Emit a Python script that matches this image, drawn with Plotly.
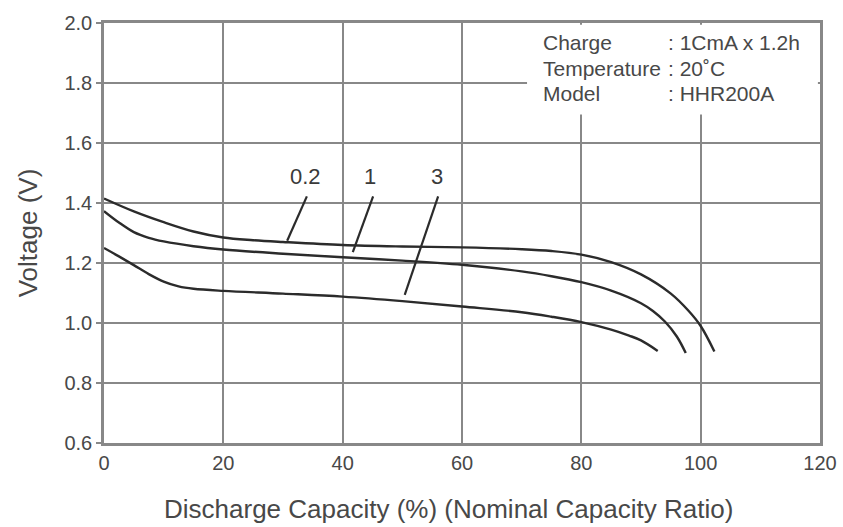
import plotly.graph_objects as go

# Discharge capacity (%) and voltage (V) for each discharge rate (C)
x_02 = [0, 5, 10, 15, 20, 25, 30, 40, 50, 60, 70, 75, 80, 85, 90, 95, 98, 100, 102.3]
v_02 = [1.415, 1.372, 1.336, 1.305, 1.285, 1.276, 1.270, 1.260, 1.255, 1.252, 1.246, 1.240, 1.228,
        1.203, 1.162, 1.098, 1.040, 0.990, 0.905]

x_1 = [0, 2.5, 5, 7.5, 10, 15, 20, 30, 40, 50, 60, 70, 75, 80, 85, 90, 92, 94, 96, 97.5]
v_1 = [1.373, 1.335, 1.303, 1.284, 1.272, 1.256, 1.245, 1.231, 1.219, 1.208, 1.194, 1.172, 1.156,
       1.136, 1.108, 1.066, 1.040, 1.005, 0.955, 0.900]

x_3 = [0, 2.5, 5, 7.5, 10, 12.5, 15, 20, 30, 40, 50, 60, 70, 75, 80, 85, 88, 90, 92.8]
v_3 = [1.250, 1.222, 1.193, 1.163, 1.138, 1.122, 1.114, 1.107, 1.098, 1.088, 1.073, 1.055, 1.036,
       1.021, 1.003, 0.978, 0.958, 0.942, 0.907]

series_names = ["0.2", "1", "3"]
label_text_x = [33.7, 44.6, 55.8]
label_text_y = [1.49, 1.49, 1.49]
leader_top_x = [34.0, 45.1, 56.0]
leader_top_y = [1.422, 1.422, 1.422]
leader_end_x = [30.7, 41.7, 50.4]
leader_end_y = [1.274, 1.236, 1.094]

x_ticks = [0, 20, 40, 60, 80, 100, 120]
y_ticks = [0.6, 0.8, 1.0, 1.2, 1.4, 1.6, 1.8, 2.0]

x_title = "Discharge Capacity (%) (Nominal Capacity Ratio)"
y_title = "Voltage (V)"

info_keys = ["Charge", "Temperature", "Model"]
info_vals = [": 1CmA x 1.2h", ": 20˚C", ": HHR200A"]

curve_color = "#2b2b2b"
grid_color = "#888888"
text_color = "#484848"
font_family = "Liberation Sans, Arial, sans-serif"

fig = go.Figure()
for xs, vs, nm in zip([x_02, x_1, x_3], [v_02, v_1, v_3], series_names):
    fig.add_trace(go.Scatter(x=xs, y=vs, mode="lines", name=nm,
                             line=dict(color=curve_color, width=2.4, shape="spline", smoothing=1.0),
                             showlegend=False, hoverinfo="skip"))

# leader lines and labels
for tx, ty, x0, y0, x1, y1, nm in zip(label_text_x, label_text_y, leader_top_x, leader_top_y,
                                      leader_end_x, leader_end_y, series_names):
    fig.add_trace(go.Scatter(x=[x0, x1], y=[y0, y1], mode="lines",
                             line=dict(color=curve_color, width=2.2),
                             showlegend=False, hoverinfo="skip"))
    fig.add_annotation(x=tx, y=ty, text=nm, showarrow=False,
                       font=dict(size=22, color="#3a3a3a", family=font_family))

# white box behind the info text (covers the grid in the top-right corner)
fig.add_shape(type="rect", xref="x", yref="y", x0=70.9, x1=119.65, y0=1.695, y1=1.994,
              fillcolor="white", line=dict(width=0), layer="above")

row_px = [37, 63, 89]
for k, py in zip(info_keys, row_px):
    fig.add_annotation(xref="paper", yref="paper", x=(541 - 104) / 716, y=(443 - py) / 426, text=k,
                       showarrow=False, xanchor="left", yanchor="middle",
                       font=dict(size=21, color=text_color, family=font_family))
for v, py in zip(info_vals, row_px):
    fig.add_annotation(xref="paper", yref="paper", x=(666 - 104) / 716, y=(443 - py) / 426, text=v,
                       showarrow=False, xanchor="left", yanchor="middle",
                       font=dict(size=21, color=text_color, family=font_family))

# x-axis title
fig.add_annotation(xref="paper", yref="paper", x=(448 - 104) / 716, y=(443 - 510) / 426,
                   text=x_title, showarrow=False, xanchor="center", yanchor="middle",
                   font=dict(size=26, color=text_color, family=font_family))

fig.update_layout(
    width=843, height=527,
    margin=dict(l=104, r=23, t=17, b=84),
    paper_bgcolor="white", plot_bgcolor="white",
    font=dict(family=font_family, color=text_color),
)
fig.update_xaxes(range=[0, 120], tickvals=x_ticks, ticktext=[str(t) for t in x_ticks],
                 showgrid=True, gridcolor=grid_color, gridwidth=2.2,
                 showline=True, linecolor=grid_color, linewidth=2.5, mirror=True,
                 zeroline=False, ticks="", tickfont=dict(size=20, color=text_color),
                 automargin=False)
fig.update_yaxes(range=[0.6, 2.0], tickvals=y_ticks, ticktext=[f"{t:.1f}" for t in y_ticks],
                 showgrid=True, gridcolor=grid_color, gridwidth=2.2,
                 showline=True, linecolor=grid_color, linewidth=2.5, mirror=True,
                 zeroline=False, ticks="outside", ticklen=5, tickcolor=grid_color, tickwidth=2,
                 tickfont=dict(size=20, color=text_color),
                 title=dict(text=y_title, font=dict(size=26, color=text_color), standoff=20))

fig.write_html("out.html")
